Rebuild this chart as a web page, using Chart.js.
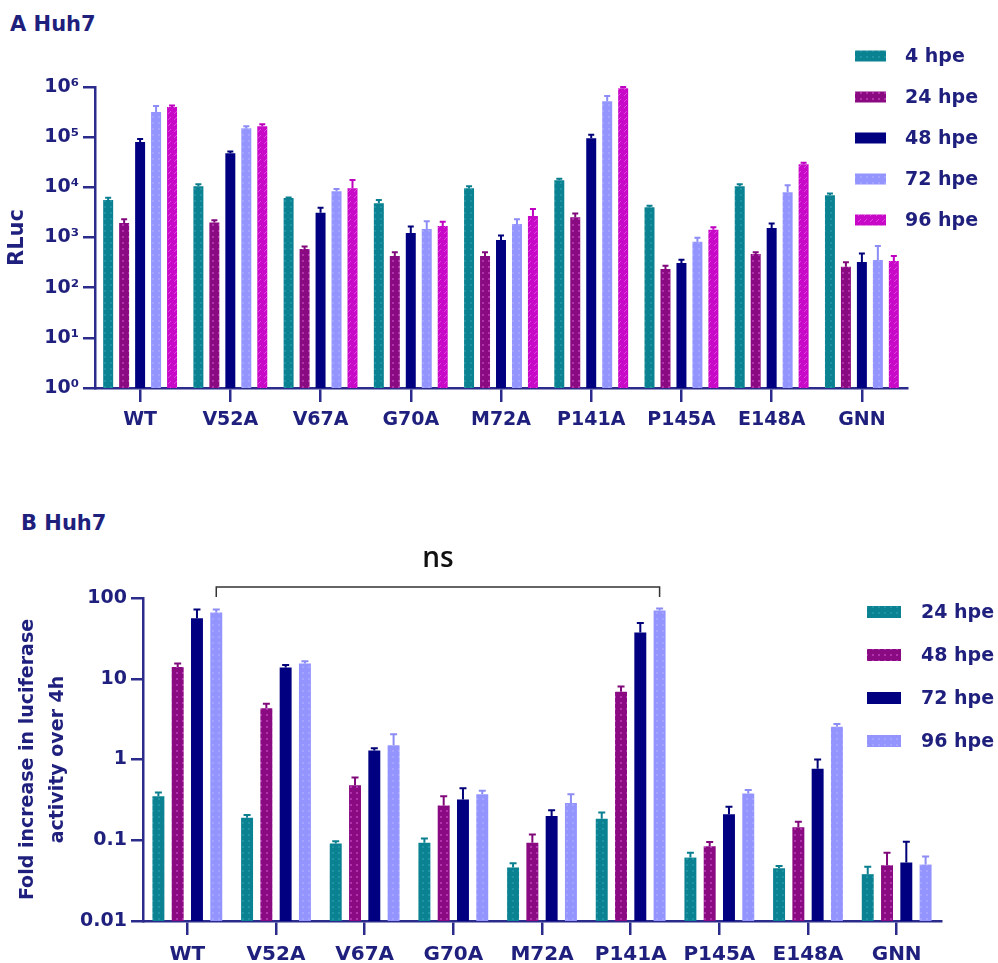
<!DOCTYPE html>
<html>
<head>
<meta charset="utf-8">
<script src="https://cdn.jsdelivr.net/npm/chart.js@4.4.1/dist/chart.umd.min.js"></script>
<style>
  body { margin: 0; background: #fff; width: 998px; height: 963px; position: relative; overflow: hidden; }
  canvas { position: absolute; left: 0; }
  .ttl { position: absolute; font: bold 21px "DejaVu Sans", sans-serif; color: #1f1f7d; }
</style>
</head>
<body>
<div class="ttl" style="left:10px;top:12px">A Huh7</div>
<div class="ttl" style="left:21px;top:511px">B Huh7</div>
<canvas id="chartA" width="998" height="450" style="top:0"></canvas>
<canvas id="chartB" width="998" height="473" style="top:490px"></canvas>
<script>
// mutants on the x axis (both panels)
const mutants = ['WT', 'V52A', 'V67A', 'G70A', 'M72A', 'P141A', 'P145A', 'E148A', 'GNN'];

// panel A: RLuc per time point (mean) and top of error bar
const labelsA = ['4 hpe', '24 hpe', '48 hpe', '72 hpe', '96 hpe'];
const rluc4  = [5600, 10500, 6100, 4800, 9600, 13900, 4000, 10500, 6950];
const rluc24 = [1950, 2000, 590, 430, 430, 2540, 235, 470, 260];
const rluc48 = [80000, 48000, 3100, 1230, 890, 95000, 310, 1550, 325];
const rluc72 = [316000, 150000, 8400, 1480, 1860, 520000, 820, 8000, 355];
const rluc96 = [400000, 165000, 9600, 1700, 2680, 940000, 1420, 29000, 340];
const errA4  = [6200, 11500, 6300, 5600, 10500, 14800, 4300, 11500, 7500];
const errA24 = [2300, 2200, 660, 510, 510, 3000, 275, 510, 320];
const errA48 = [92000, 52000, 3900, 1650, 1100, 112000, 360, 1900, 480];
const errA72 = [420000, 165000, 9300, 2100, 2300, 660000, 990, 11000, 680];
const errA96 = [430000, 180000, 14000, 2050, 3700, 1000000, 1600, 31000, 430];
const ticksA = [1, 10, 100, 1000, 10000, 100000, 1000000];

// panel B: fold increase over 4h
const labelsB = ['24 hpe', '48 hpe', '72 hpe', '96 hpe'];
const fold24 = [0.35, 0.19, 0.091, 0.093, 0.046, 0.185, 0.061, 0.045, 0.038];
const fold48 = [14, 4.3, 0.48, 0.27, 0.093, 6.9, 0.084, 0.145, 0.049];
const fold72 = [56, 13.8, 1.29, 0.32, 0.2, 37.5, 0.21, 0.77, 0.053];
const fold96 = [66, 15.4, 1.5, 0.37, 0.29, 70, 0.38, 2.55, 0.05];
const errB24 = [0.39, 0.205, 0.097, 0.105, 0.052, 0.22, 0.07, 0.048, 0.047];
const errB48 = [15.5, 4.9, 0.6, 0.35, 0.118, 8, 0.095, 0.17, 0.07];
const errB72 = [72, 14.8, 1.38, 0.44, 0.235, 49, 0.26, 1.0, 0.096];
const errB96 = [72, 16.5, 2.05, 0.41, 0.37, 74, 0.42, 2.75, 0.063];
const ticksB = [0.01, 0.1, 1, 10, 100];
// bracket: compare WT vs P141A at 96 hpe
const bracket = { from: 'WT', to: 'P141A', series: 3, text: 'ns' };

const TEXT = '#1f1f7d', AXIS = '#2b2b8c';
const FONT = '"DejaVu Sans", sans-serif';

// small fill patterns like the prism bars
function pattern(base, dot, kind) {
  const c = document.createElement('canvas');
  c.width = 6; c.height = 6;
  const g = c.getContext('2d');
  g.fillStyle = base; g.fillRect(0, 0, 6, 6);
  g.fillStyle = dot;
  if (kind === 'diag') {
    g.fillRect(0, 5, 1, 1); g.fillRect(1, 4, 1, 1); g.fillRect(2, 3, 1, 1);
  } else if (kind) {
    g.fillRect(2, 2, 2, 2);
  }
  return document.createElement('canvas').getContext('2d').createPattern(c, 'repeat');
}
const teal = { line: '#0a7f8f', fill: pattern('#0a8292', '#1f93a2', 'dot') };
const purple = { line: '#80087a', fill: pattern('#8a0a82', '#b032ac', 'dot') };
const navy = { line: '#000078', fill: pattern('#000080', '#000080') };
const lav = { line: '#8c8cf5', fill: pattern('#9494ff', '#a4a4ff', 'dot') };
const pink = { line: '#c000c0', fill: pattern('#c80ac8', '#dc46dc', 'diag') };

function ds(label, data, err, col) {
  return { label, data, errHi: err, backgroundColor: col.fill, errColor: col.line, borderWidth: 0 };
}

const errorBars = {
  id: 'errorBars',
  afterDatasetsDraw(chart, args, opts) {
    const ctx = chart.ctx, y = chart.scales.y;
    ctx.save();
    chart.data.datasets.forEach((d, di) => {
      chart.getDatasetMeta(di).data.forEach((bar, i) => {
        const top = y.getPixelForValue(d.errHi[i]);
        ctx.strokeStyle = d.errColor;
        ctx.lineWidth = 2;
        ctx.beginPath();
        ctx.moveTo(bar.x, bar.y);
        ctx.lineTo(bar.x, top);
        ctx.moveTo(bar.x - opts.cap, top);
        ctx.lineTo(bar.x + opts.cap, top);
        ctx.stroke();
      });
    });
    ctx.restore();
  }
};

const sideLegend = {
  id: 'sideLegend',
  afterDraw(chart, args, o) {
    const ctx = chart.ctx;
    ctx.save();
    chart.data.datasets.forEach((d, i) => {
      const cy = o.y + i * o.step;
      ctx.fillStyle = d.backgroundColor;
      ctx.fillRect(o.x, cy - o.h / 2, o.w, o.h);
      ctx.fillStyle = TEXT;
      ctx.font = 'bold 19px ' + FONT;
      ctx.textBaseline = 'middle';
      ctx.fillText(d.label, o.tx, cy + 1);
    });
    ctx.restore();
  }
};

const sigBracket = {
  id: 'sigBracket',
  afterDraw(chart, args, o) {
    if (!o.show) return;
    const meta = chart.getDatasetMeta(bracket.series);
    const x1 = meta.data[mutants.indexOf(bracket.from)].x;
    const x2 = meta.data[mutants.indexOf(bracket.to)].x;
    const yTop = chart.chartArea.top - 11;
    const ctx = chart.ctx;
    ctx.save();
    ctx.strokeStyle = '#333';
    ctx.lineWidth = 1.5;
    ctx.beginPath();
    ctx.moveTo(x1, yTop + 10); ctx.lineTo(x1, yTop); ctx.lineTo(x2, yTop); ctx.lineTo(x2, yTop + 10);
    ctx.stroke();
    ctx.fillStyle = '#111';
    ctx.font = '600 28px "Open Sans", sans-serif';
    ctx.textAlign = 'center';
    ctx.textBaseline = 'middle';
    ctx.fillText(bracket.text, (x1 + x2) / 2, yTop - 28);
    ctx.restore();
  }
};

const sup = { '0': '⁰', '1': '¹', '2': '²', '3': '³', '4': '⁴', '5': '⁵', '6': '⁶' };

function axes(cfg) {
  return {
    x: {
      grid: { drawOnChartArea: false, offset: false, tickLength: 14, color: AXIS, lineWidth: 2.5 },
      border: { color: AXIS, width: 2.5 },
      ticks: { color: TEXT, font: { family: FONT, weight: 'bold', size: cfg.xSize }, padding: cfg.xPad, maxRotation: 0 },
      afterFit: s => { s.height = cfg.xh; }
    },
    y: {
      type: 'logarithmic',
      min: cfg.ticks[0], max: cfg.ticks[cfg.ticks.length - 1],
      afterBuildTicks: s => { s.ticks = cfg.ticks.map(v => ({ value: v })); },
      grid: { drawOnChartArea: false, tickLength: 12, color: AXIS, lineWidth: 2.5 },
      border: { color: AXIS, width: 2.5 },
      ticks: { color: TEXT, font: { family: FONT, weight: 'bold', size: 19 }, padding: 4, callback: cfg.fmt },
      title: { display: true, text: cfg.title, color: TEXT, font: cfg.titleFont, padding: cfg.titlePad },
      afterFit: s => { s.width = cfg.yw; }
    }
  };
}

new Chart(document.getElementById('chartA'), {
  type: 'bar',
  data: {
    labels: mutants,
    datasets: [
      ds(labelsA[0], rluc4, errA4, teal),
      ds(labelsA[1], rluc24, errA24, purple),
      ds(labelsA[2], rluc48, errA48, navy),
      ds(labelsA[3], rluc72, errA72, lav),
      ds(labelsA[4], rluc96, errA96, pink)
    ]
  },
  options: {
    responsive: false,
    animation: false,
    categoryPercentage: 0.885,
    barPercentage: 0.625,
    layout: { padding: { top: 87, right: 91, bottom: 12, left: 0 } },
    plugins: {
      legend: { display: false },
      tooltip: { enabled: false },
      errorBars: { cap: 3 },
      sideLegend: { x: 855, w: 31, h: 11, y: 56, step: 41, tx: 905 },
      sigBracket: { show: false }
    },
    scales: axes({
      ticks: ticksA, xh: 50, yw: 95, xSize: 19, xPad: 7,
      fmt: v => '10' + String(Math.round(Math.log10(v))).split('').map(c => sup[c]).join(''),
      title: 'RLuc', titleFont: { family: FONT, weight: 'bold', size: 21 }, titlePad: { top: 5, bottom: 0 }
    })
  },
  plugins: [errorBars, sideLegend, sigBracket]
});

new Chart(document.getElementById('chartB'), {
  type: 'bar',
  data: {
    labels: mutants,
    datasets: [
      ds(labelsB[0], fold24, errB24, teal),
      ds(labelsB[1], fold48, errB48, purple),
      ds(labelsB[2], fold72, errB72, navy),
      ds(labelsB[3], fold96, errB96, lav)
    ]
  },
  options: {
    responsive: false,
    animation: false,
    categoryPercentage: 0.87,
    barPercentage: 0.62,
    layout: { padding: { top: 108, right: 57, bottom: 2, left: 0 } },
    plugins: {
      legend: { display: false },
      tooltip: { enabled: false },
      errorBars: { cap: 3.5 },
      sideLegend: { x: 867, w: 34, h: 12, y: 122, step: 43, tx: 921 },
      sigBracket: { show: true }
    },
    scales: axes({
      ticks: ticksB, xh: 40, yw: 143, xSize: 20, xPad: 8,
      fmt: v => String(v),
      title: ['Fold increase in luciferase', 'activity over 4h'],
      titleFont: { family: FONT, weight: 'bold', size: 19, lineHeight: 30 / 19 }, titlePad: { top: 13, bottom: 0 }
    })
  },
  plugins: [errorBars, sideLegend, sigBracket]
});
</script>
</body>
</html>
